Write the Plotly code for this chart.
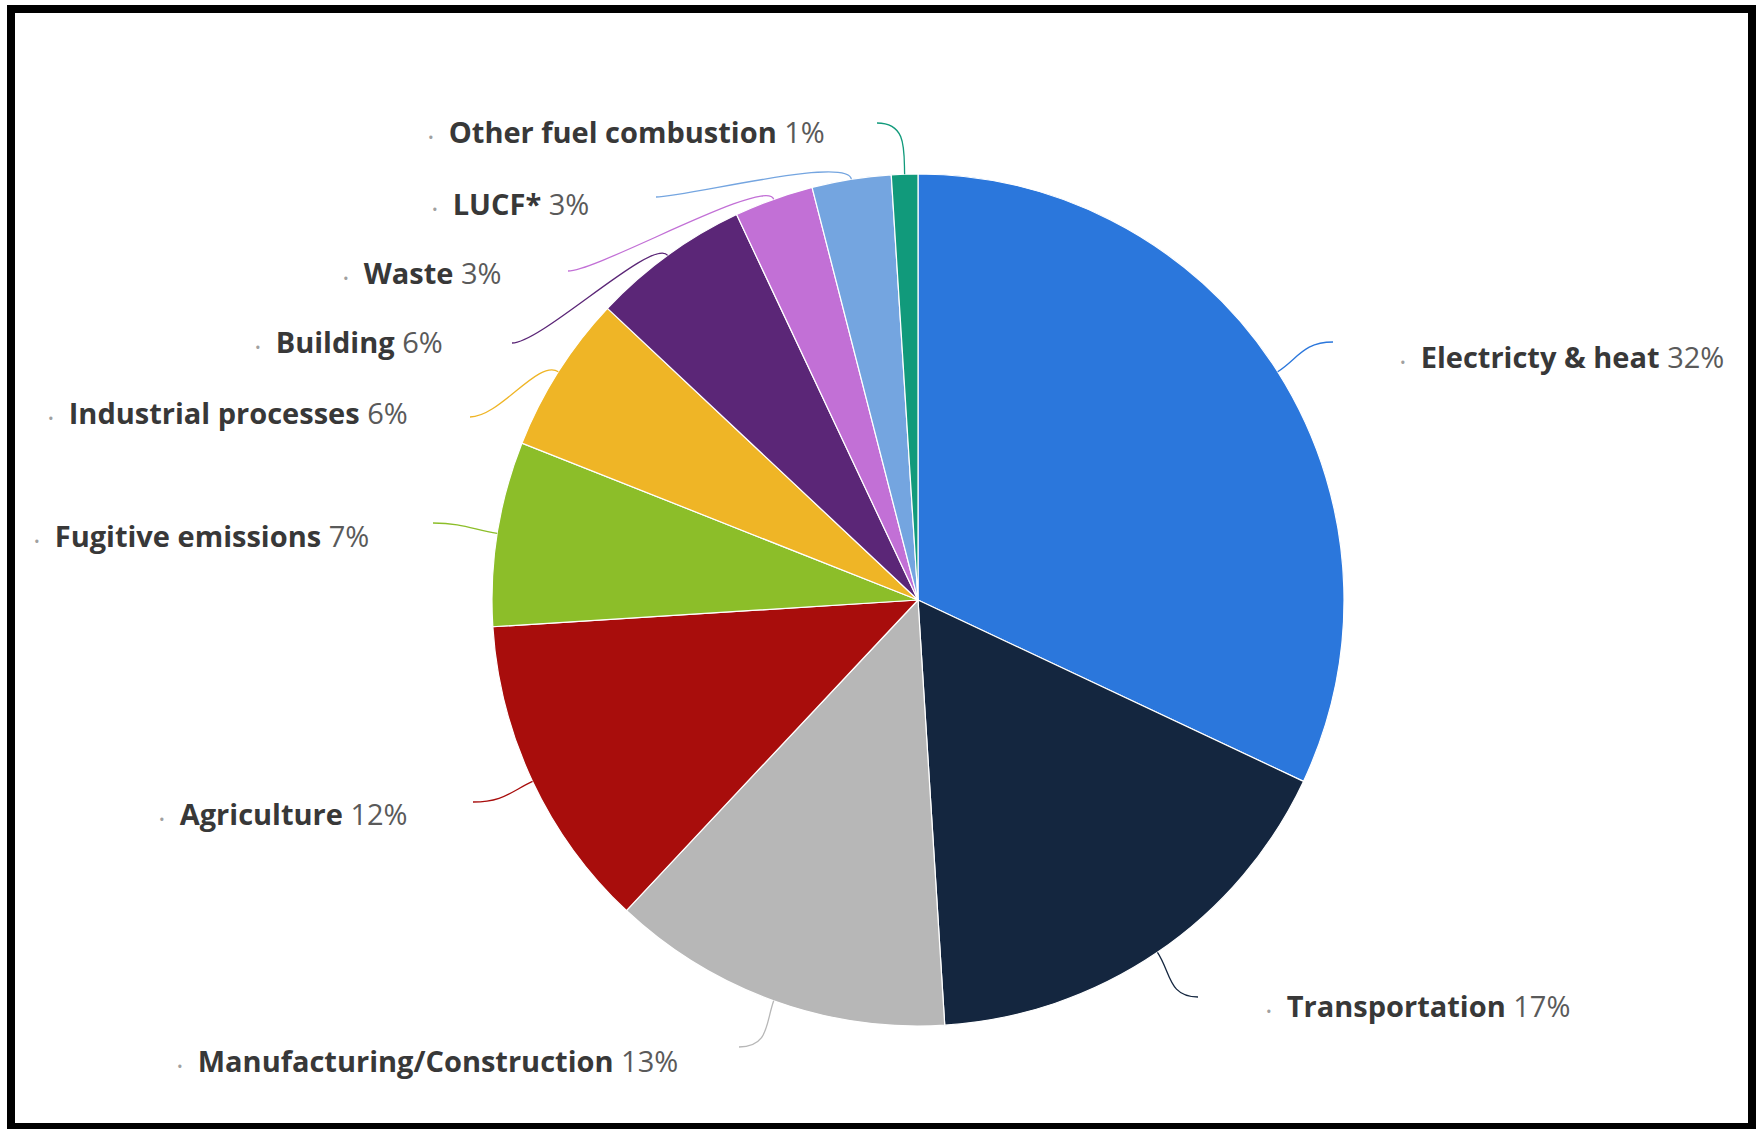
import math
import plotly.graph_objects as go

W, H = 1756, 1129

# Share of global greenhouse-gas emissions by sector (clockwise from 12 o'clock)
sectors = [
    "Electricty & heat",
    "Transportation",
    "Manufacturing/Construction",
    "Agriculture",
    "Fugitive emissions",
    "Industrial processes",
    "Building",
    "Waste",
    "LUCF*",
    "Other fuel combustion",
]
shares = [32, 17, 13, 12, 7, 6, 6, 3, 3, 1]

colors = [
    "#2b77dc", "#14263f", "#b7b7b7", "#a80d0c", "#8cbe29",
    "#efb526", "#5b2677", "#c270d6", "#74a5e0", "#119a7b",
]

# Pie centre and radius in pixels
CX, CY, R = 918, 600, 426

# Label anchors in pixels: (x, y, side). Left-side labels are right-aligned.
label_anchor = [
    (1398, 356, "right"),
    (1264, 1005, "right"),
    (680, 1060, "left"),
    (410, 813, "left"),
    (371, 535, "left"),
    (410, 412, "left"),
    (445, 342, "left"),
    (504, 272, "left"),
    (591, 203, "left"),
    (827, 131, "left"),
]
# Where each connector meets its label, in pixels
connector_end = [
    (1333, 342), (1198, 997), (739, 1047), (473, 802), (433, 523),
    (470, 417), (512, 343), (568, 271), (656, 197), (877, 123),
]


def px(x):
    return x / W


def py(y):
    return 1 - y / H


fig = go.Figure(
    go.Pie(
        labels=sectors,
        values=shares,
        sort=False,
        direction="clockwise",
        rotation=0,
        textinfo="none",
        hoverinfo="label+percent",
        marker=dict(colors=colors, line=dict(color="white", width=1.2)),
        domain=dict(x=[px(CX - R), px(CX + R)], y=[py(CY + R), py(CY - R)]),
        showlegend=False,
    )
)

shapes = []
annotations = []
total = sum(shares)
cum = 0
for name, val, col, (lx, ly, side), (ex, ey) in zip(
    sectors, shares, colors, label_anchor, connector_end
):
    mid = (cum + val / 2) / total * 2 * math.pi
    cum += val
    ux, uy = math.sin(mid), -math.cos(mid)
    x0, y0 = CX + R * ux, CY + R * uy
    c1x, c1y = CX + (R + 24) * ux, CY + (R + 24) * uy
    hand = -30 if side == "right" else 30
    c2x, c2y = ex + hand, ey
    path = (
        f"M {px(x0)} {py(y0)} C {px(c1x)} {py(c1y)}, "
        f"{px(c2x)} {py(c2y)}, {px(ex)} {py(ey)}"
    )
    shapes.append(
        dict(type="path", xref="paper", yref="paper", path=path,
             line=dict(color=col, width=1.3))
    )
    text = (
        "<span style='color:#a0a0a0;font-size:15px'>•</span>  "
        f"<b>{name}</b> <span style='color:#5a5a5a'>{val}%</span>"
    )
    annotations.append(
        dict(
            x=px(lx), y=py(ly), xref="paper", yref="paper",
            text=text, showarrow=False,
            xanchor="left" if side == "right" else "right",
            yanchor="middle",
            font=dict(family="Open Sans", size=29, color="#383838"),
        )
    )

# Black frame around the chart
shapes.append(
    dict(type="rect", xref="paper", yref="paper",
         x0=px(11), x1=px(1752), y0=py(1127), y1=py(9),
         line=dict(color="black", width=8), fillcolor="rgba(0,0,0,0)")
)

fig.update_layout(
    width=W,
    height=H,
    margin=dict(l=0, r=0, t=0, b=0),
    paper_bgcolor="white",
    plot_bgcolor="white",
    shapes=shapes,
    annotations=annotations,
)

fig.write_html("out.html")
